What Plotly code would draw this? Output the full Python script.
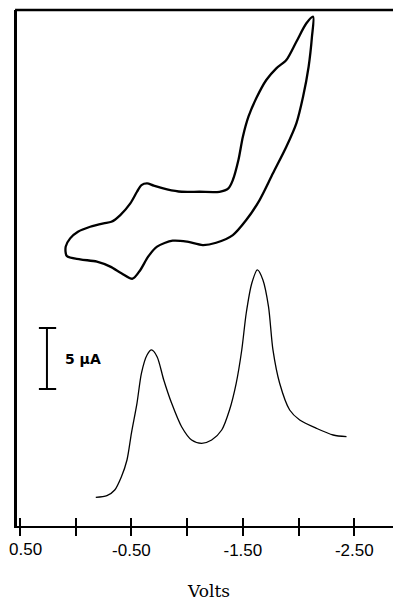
import plotly.graph_objects as go

# Cyclic voltammogram (closed loop), volts vs. current (uA, arbitrary offset)
cv_volts = [-2.13, -2.07, -1.98, -1.89, -1.80, -1.71, -1.62, -1.55, -1.50, -1.46,
            -1.41, -1.37, -1.29, -1.11, -0.95, -0.82, -0.70, -0.64, -0.59, -0.55,
            -0.49, -0.40, -0.32, -0.25, -0.13, -0.02, 0.05, 0.09, 0.08, -0.04,
            -0.19, -0.31, -0.41, -0.51, -0.58, -0.65, -0.73, -0.87, -1.00, -1.14,
            -1.26, -1.41, -1.53, -1.65, -1.77, -1.89, -1.98, -2.04, -2.09, -2.12, -2.13]
cv_current = [41.83, 41.29, 39.78, 38.28, 37.60, 36.64, 35.14, 33.63, 31.99, 30.08,
              28.44, 27.76, 27.48, 27.48, 27.48, 27.68, 27.98, 28.17, 28.03, 27.48,
              26.53, 25.57, 25.02, 24.89, 24.61, 24.20, 23.66, 22.98, 22.21, 21.94,
              21.75, 21.34, 20.80, 20.35, 21.07, 22.16, 22.98, 23.47, 23.39, 23.11,
              23.30, 23.93, 25.16, 26.80, 28.99, 31.17, 33.09, 35.27, 37.73, 40.19, 41.83]

# Differential pulse polarogram
dpp_volts = [-0.18, -0.28, -0.35, -0.41, -0.46, -0.50, -0.55, -0.59, -0.64, -0.68,
             -0.73, -0.79, -0.86, -0.95, -1.04, -1.13, -1.22, -1.31, -1.38, -1.44,
             -1.49, -1.53, -1.58, -1.63, -1.68, -1.73, -1.77, -1.83, -1.92, -2.01,
             -2.16, -2.31, -2.43]
dpp_current = [2.43, 2.57, 3.03, 4.12, 5.49, 7.70, 10.16, 12.62, 14.10, 14.51,
               13.96, 12.05, 10.16, 8.22, 7.13, 6.86, 7.13, 7.95, 9.59, 11.78,
               14.51, 17.52, 19.98, 21.07, 20.25, 18.06, 14.51, 11.78, 9.59, 8.77,
               8.09, 7.54, 7.40]

tick_vals = [0.5, 0.0, -0.5, -1.0, -1.5, -2.0, -2.5]
tick_text = ["0.50", "", "-0.50", "", "-1.50", "", "-2.50"]
scale_bar_ua = 5
scale_bar_bottom = 11.31
scale_label = "5 \u03bcA"
x_title = "Volts"

fig = go.Figure()
fig.add_trace(go.Scatter(x=cv_volts, y=cv_current, mode="lines",
                         line=dict(color="black", width=2.3, shape="spline", smoothing=0.8),
                         hoverinfo="skip", showlegend=False))
fig.add_trace(go.Scatter(x=dpp_volts, y=dpp_current, mode="lines",
                         line=dict(color="black", width=1.3, shape="spline", smoothing=0.8),
                         hoverinfo="skip", showlegend=False))
# dummy trace on overlay axis for inside ticks
fig.add_trace(go.Scatter(x=[None], y=[None], xaxis="x2", showlegend=False, hoverinfo="skip"))

# the first label sits at the figure edge, so it is drawn as an annotation
axis_tick_text = [""] + tick_text[1:]
tick_font = dict(family="Liberation Sans", size=17, color="black")

xrange = [0.527, -2.919]
fig.update_layout(
    width=393, height=593,
    margin=dict(l=9, r=0, t=2, b=75),
    paper_bgcolor="white", plot_bgcolor="white",
    xaxis=dict(range=xrange, showgrid=False, zeroline=False,
               showline=True, linecolor="black", linewidth=2, mirror=False,
               ticks="outside", ticklen=8, tickwidth=2, tickcolor="black",
               tickvals=tick_vals, ticktext=axis_tick_text,
               tickfont=tick_font,
               title=dict(text=x_title, font=dict(family="DejaVu Serif", size=17, color="black"),
                          standoff=26)),
    xaxis2=dict(range=xrange, overlaying="x", side="bottom", showgrid=False, zeroline=False,
                showline=False, ticks="inside", ticklen=8, tickwidth=2, tickcolor="black",
                tickvals=tick_vals, showticklabels=False),
    yaxis=dict(range=[0.08, 42.38], showgrid=False, zeroline=False, showticklabels=False,
               showline=True, linecolor="black", linewidth=2.5, ticks=""),
    shapes=[
        dict(type="line", xref="paper", yref="paper", x0=-0.005, x1=1, y0=1, y1=1,
             line=dict(color="black", width=2.5)),
        dict(type="line", xref="paper", yref="y", x0=0.078, x1=0.078,
             y0=scale_bar_bottom, y1=scale_bar_bottom + scale_bar_ua,
             line=dict(color="black", width=2)),
        dict(type="line", xref="paper", yref="y", x0=0.057, x1=0.102,
             y0=scale_bar_bottom, y1=scale_bar_bottom,
             line=dict(color="black", width=2)),
        dict(type="line", xref="paper", yref="y", x0=0.057, x1=0.102,
             y0=scale_bar_bottom + scale_bar_ua, y1=scale_bar_bottom + scale_bar_ua,
             line=dict(color="black", width=2)),
    ],
    annotations=[
        dict(text="<b>" + scale_label + "</b>", xref="paper", yref="y", x=0.12,
             y=scale_bar_bottom + scale_bar_ua / 2, xanchor="left", yanchor="middle",
             showarrow=False, font=dict(family="DejaVu Sans", size=14, color="black")),
        dict(text=tick_text[0], xref="x", yref="paper", x=tick_vals[0], y=0,
             xanchor="left", yanchor="middle", xshift=-13, yshift=-23,
             showarrow=False, font=tick_font),
    ],
)

fig.write_html("out.html")
